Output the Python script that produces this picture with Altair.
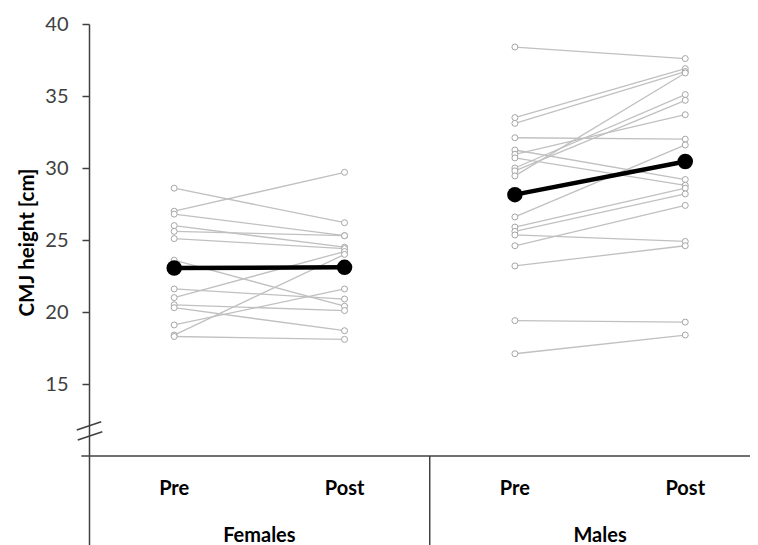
import altair as alt
import pandas as pd

# ---- data ----
groups = ["Females", "Males"]
times = ["Pre", "Post"]

female_pre = [28.6, 27.0, 26.8, 26.0, 25.6, 25.1, 23.6, 21.6, 21.0, 20.5, 20.3, 19.1, 18.4, 18.3]
female_post = [26.2, 29.7, 25.3, 24.5, 25.3, 24.4, 20.4, 20.9, 24.2, 20.1, 18.7, 21.6, 24.0, 18.1]

male_pre = [38.4, 33.5, 33.1, 32.1, 31.25, 30.95, 30.7, 30.0, 29.8, 29.45,
            26.6, 25.9, 25.6, 25.35, 24.6, 23.2, 19.4, 17.1]
male_post = [37.6, 36.9, 36.7, 32.0, 29.2, 33.7, 28.8, 35.1, 34.7, 36.6,
             31.6, 28.6, 28.2, 24.9, 27.4, 24.6, 19.3, 18.4]

mean_pre = [23.05, 28.15]
mean_post = [23.1, 30.45]

y_ticks = [15, 20, 25, 30, 35, 40]
y_label = "CMJ height [cm]"

# ---- layout constants ----
Y_MIN, Y_MAX = 3.82, 40
X_MIN, X_MAX = 0, 3.88
FONT = "Lato"
AXIS_COLOR = "#404040"

# ---- build tables ----
rows = []
for gi, (pre, post) in enumerate([(female_pre, female_post), (male_pre, male_post)]):
    for si, (a, b) in enumerate(zip(pre, post)):
        sid = f"{groups[gi]}-{si}"
        rows.append({"id": sid, "pos": gi * 2 + 0.5, "value": a})
        rows.append({"id": sid, "pos": gi * 2 + 1.5, "value": b})
ind = pd.DataFrame(rows)

mrows = []
for gi in range(len(groups)):
    mrows.append({"group": groups[gi], "pos": gi * 2 + 0.5, "value": mean_pre[gi]})
    mrows.append({"group": groups[gi], "pos": gi * 2 + 1.5, "value": mean_post[gi]})
means = pd.DataFrame(mrows)

time_labels = pd.DataFrame(
    [{"pos": gi * 2 + ti + 0.5, "value": 7.72, "label": t}
     for gi in range(len(groups)) for ti, t in enumerate(times)]
)
group_labels = pd.DataFrame(
    [{"pos": gi * 2 + 1.0, "value": 4.45, "label": g} for gi, g in enumerate(groups)]
)

xscale = alt.Scale(domain=[X_MIN, X_MAX], nice=False, zero=False)
yscale = alt.Scale(domain=[Y_MIN, Y_MAX], nice=False, zero=False)

X = alt.X("pos:Q", scale=xscale, axis=None)
Y = alt.Y(
    "value:Q",
    scale=yscale,
    axis=alt.Axis(
        values=y_ticks,
        title=y_label,
        grid=False,
        domainColor=AXIS_COLOR,
        domainWidth=1.5,
        tickColor=AXIS_COLOR,
        tickWidth=1.5,
        tickSize=7,
        labelFont=FONT,
        labelFontSize=20,
        labelColor=AXIS_COLOR,
        labelPadding=14,
        titleFont=FONT,
        titleFontSize=20.5,
        titleFontWeight="bold",
        titleColor="black",
        titleX=-62,
        titleY=218,
        titleBaseline="middle",
        titleAngle=270,
    ),
)

ind_lines = alt.Chart(ind).mark_line(color="#c0c0c0", strokeWidth=1.3).encode(x=X, y=Y, detail="id:N")
ind_pts = alt.Chart(ind).mark_circle(
    color="white", stroke="#a6a6a6", strokeWidth=1, size=36, opacity=1
).encode(x=X, y=Y, detail="id:N")

mean_line = alt.Chart(means).mark_line(color="black", strokeWidth=4.5).encode(x=X, y=Y, detail="group:N")
mean_pts = alt.Chart(means).mark_circle(color="black", size=240, opacity=1).encode(x=X, y=Y)

xaxis_df = pd.DataFrame({"x": [-0.045], "x2": [X_MAX], "y": [10]})
xaxis_line = alt.Chart(xaxis_df).mark_rule(color=AXIS_COLOR, strokeWidth=1.5).encode(
    x=alt.X("x:Q", scale=xscale, axis=None), x2="x2:Q", y=alt.Y("y:Q", scale=yscale)
)

sep_df = pd.DataFrame({"x": [2.0], "y": [10], "y2": [Y_MIN]})
sep_line = alt.Chart(sep_df).mark_rule(color=AXIS_COLOR, strokeWidth=1.5).encode(
    x=alt.X("x:Q", scale=xscale, axis=None), y=alt.Y("y:Q", scale=yscale), y2="y2:Q"
)

brk_df = pd.DataFrame({
    "x": [-0.072, -0.066],
    "x2": [0.072, 0.078],
    "y": [11.81, 11.11],
    "y2": [12.38, 11.69],
})
brk = alt.Chart(brk_df).mark_rule(color=AXIS_COLOR, strokeWidth=1.5).encode(
    x=alt.X("x:Q", scale=xscale, axis=None), x2="x2:Q",
    y=alt.Y("y:Q", scale=yscale), y2="y2:Q"
)

tlab = alt.Chart(time_labels).mark_text(
    font=FONT, fontSize=20, fontWeight="bold", color="black", baseline="middle"
).encode(x=X, y=Y, text="label:N")
glab = alt.Chart(group_labels).mark_text(
    font=FONT, fontSize=20, fontWeight="bold", color="black", baseline="middle"
).encode(x=X, y=Y, text="label:N")

chart = alt.layer(
    ind_lines, ind_pts, mean_line, mean_pts, xaxis_line, sep_line, brk, tlab, glab
).properties(
    width=661,
    height=521,
    background="white",
    autosize=alt.AutoSizeParams(type="none"),
    padding={"left": 81, "top": 16, "right": 0, "bottom": 0},
).configure_view(stroke=None, strokeWidth=0)

chart.save("out.html", embed_options={"renderer": "svg", "actions": False})
